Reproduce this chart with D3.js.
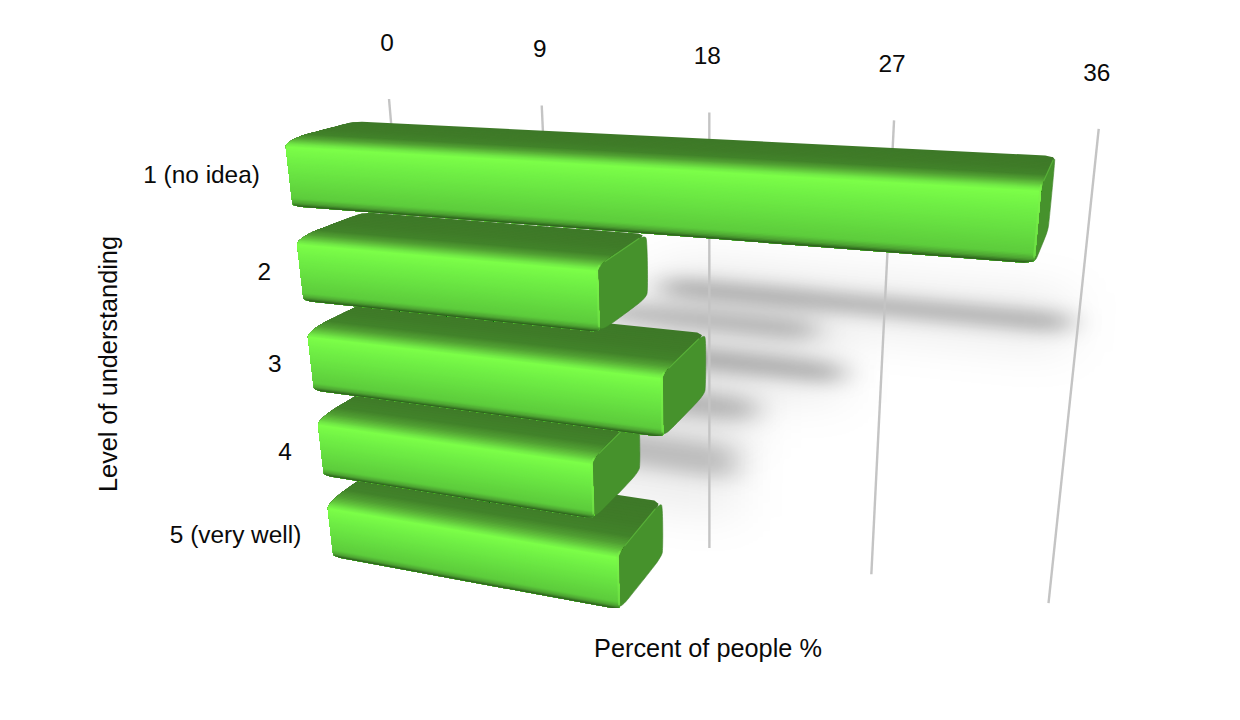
<!DOCTYPE html>
<html><head><meta charset="utf-8">
<style>html,body{margin:0;background:#fff}svg{display:block}text{font-family:"Liberation Sans",Arial,sans-serif;font-size:24.4px;fill:#0a0a0a}.t{font-size:25.3px}</style>
<script src="https://cdnjs.cloudflare.com/ajax/libs/d3/7.8.5/d3.min.js"></script>
</head><body><svg id="c" width="1240" height="720"></svg>
<script>
const categories = ["1 (no idea)","2","3","4","5 (very well)"];
const percent = [34.5,15.9,18.9,15.3,16.5];
const valueTicks = [0,9,18,27,36];
const shadowReach = [35.6,23.5,25,20.5,19.5];
const shadowStart = [15.5,12,12,9,9];
const shadowRow = [1.75,2.09,2.54,3.08,3.75];
const shadowHalf = [.09,.09,.1,.12,.2];
const shadowStrength = [.3,.25,.3,.24,.2];
const axisTitleX = "Percent of people %";
const axisTitleY = "Level of understanding";

// three-point perspective
const origin=[285,140], vpValue=[-2900,-40], vpRow=[710,3800], vpDepth=[1182,-98];
const rowUnit=.0275;
const valueParam=d3.scaleLinear().domain([0,36]).range([0,36*-.005565]);
const rowParam=d3.scaleLinear().domain([0,5]).range([0,5*rowUnit]);
const band=d3.scaleBand().domain(categories).range([0,rowParam(4.67)]).paddingInner(.33).paddingOuter(0);
const barDepth=.085, gridDepth=.1328, gridTop=rowParam(-.146), gridBottom=rowParam(4.862);
function project(v,b,t){
  const a=valueParam(v), w=1+a+b+t;
  return [(origin[0]+a*vpValue[0]+b*vpRow[0]+t*vpDepth[0])/w,
          (origin[1]+a*vpValue[1]+b*vpRow[1]+t*vpDepth[1])/w];
}
const svg=d3.select("#c");
const defs=svg.append("defs");
[["b1","15 8.5"],["b2","26 22"]].forEach(([id,s])=>defs.append("filter").attr("id",id)
  .attr("filterUnits","userSpaceOnUse").attr("x",0).attr("y",0).attr("width",1240).attr("height",720)
  .append("feGaussianBlur").attr("stdDeviation",s));

// shadows on the back plane
const line=d3.line();
function shadowPath(i,half){
  const b=rowParam(shadowRow[i]), db=rowParam(half), s=shadowStart[i], e=shadowReach[i];
  return line([project(s,b-db,gridDepth),project(e,b-db,gridDepth),project(e,b+db,gridDepth),project(s,b+db,gridDepth)])+"Z";
}
const gShadow=svg.append("g");
gShadow.append("g").attr("filter","url(#b2)").selectAll("path").data(categories).join("path")
  .attr("d",(d,i)=>shadowPath(i,shadowHalf[i]*3.4)).attr("fill","#000").attr("fill-opacity",.07);
gShadow.append("g").attr("filter","url(#b1)").selectAll("path").data(categories).join("path")
  .attr("d",(d,i)=>shadowPath(i,shadowHalf[i])).attr("fill","#000").attr("fill-opacity",(d,i)=>shadowStrength[i]);

// grid
svg.append("g").selectAll("line").data(valueTicks).join("line")
  .attr("x1",d=>project(d,gridTop,gridDepth)[0]).attr("y1",d=>project(d,gridTop,gridDepth)[1])
  .attr("x2",d=>project(d,gridBottom,gridDepth)[0]).attr("y2",d=>project(d,gridBottom,gridDepth)[1])
  .attr("stroke","#c4c4c4").attr("stroke-width",2.4);
svg.append("g").selectAll("text").data(valueTicks).join("text")
  .attr("text-anchor","middle").attr("dy",".35em")
  .attr("x",d=>project(d,gridTop,gridDepth)[0]-2)
  .attr("y",d=>project(d,gridTop,gridDepth)[1]-57).text(d=>d);

// bar shading along the cross-section: 0-1 top face, 1-2 rounded edge, 2-3 front face
const shade=d3.scaleLinear()
  .domain([0,.6,1,1.3,1.75,2,2.25,2.55,2.85,2.93,3])
  .range(["#3e7928","#3f7b28","#42832a","#519f33","#72ea46","#7cfe48","#70ef45","#66de41","#5dcc3c","#4da332","#234f15"]);
const h=band.bandwidth(), rc=h*.1, rd=barDepth*.3;
function profile(b0){
  const pts=[];
  d3.range(0,1,1/14).forEach(u=>pts.push({u,b:b0,t:barDepth-(barDepth-rd)*u}));
  d3.range(0,1,1/18).forEach(u=>{const th=u*Math.PI/2;pts.push({u:1+u,b:b0+rc*(1-Math.cos(th)),t:rd*(1-Math.sin(th))});});
  d3.range(0,1.0001,1/50).forEach(u=>pts.push({u:2+u,b:b0+rc+(h-rc)*u,t:0}));
  return pts;
}
function sideOutline(b0){
  const r=[], rbk=barDepth*.2, rh=h*.07;
  d3.range(0,1.001,.2).forEach(u=>{const th=u*Math.PI/2;r.push([b0+rc*(1-Math.cos(th)),rd*(1-Math.sin(th))]);});
  d3.range(0,1.001,.25).forEach(u=>{const th=u*Math.PI/2;r.push([b0+h-rh*(1-Math.sin(th)),rbk*(1-Math.cos(th))]);});
  d3.range(0,1.001,.25).forEach(u=>{const th=u*Math.PI/2;r.push([b0+h-rh*(1-Math.cos(th)),barDepth-rbk*(1-Math.sin(th))]);});
  d3.range(0,1.001,.25).forEach(u=>{const th=u*Math.PI/2;r.push([b0+rh*(1-Math.sin(th)),barDepth-rbk*(1-Math.cos(th))]);});
  return r;
}
const round=.4;
function inset(p){
  let k=0;
  if(p.u<.16){const q=1-p.u/.16;k=1-Math.sqrt(1-q*q);}
  if(p.u>2.95){const q=(p.u-2.95)/.05;k=Math.max(k,1-Math.sqrt(Math.max(0,1-q*q)));}
  return k*round;
}
const bars=svg.append("g");
d3.range(categories.length-1,-1,-1).forEach(i=>{
  const b0=band(categories[i]), val=percent[i], g=bars.append("g");
  g.append("path").attr("d",d3.line().curve(d3.curveCatmullRomClosed)(sideOutline(b0).map(([b,t])=>project(val,b,t))))
    .attr("fill","#46922c").attr("stroke","#3d8026").attr("stroke-width",.6);
  const P=profile(b0);
  // each layer paints from its own line to the bar's lower edge, so later layers cover it without seams
  g.selectAll("path.s").data(P.slice(0,-1)).join("path").attr("class","s")
    .attr("d",(p,j)=>{
      const rest=P.slice(j);
      const left=rest.map(q=>project(inset(q),q.b,q.t));
      const right=rest.map(q=>project(val-inset(q),q.b,q.t)).reverse();
      return line(left.concat(right))+"Z";
    })
    .attr("fill",p=>shade(p.u));
  // bright rim where the front wraps to the end, crease to the top
  const rim=P.filter(p=>p.u>=1.6&&p.u<=2.93).map(p=>project(val-.03,p.b,p.t));
  g.append("path").attr("d",line(rim)).attr("fill","none").attr("stroke","#7df04c").attr("stroke-opacity",.5).attr("stroke-width",2.2);
  g.append("path").attr("d",line([project(val,b0+rc*.3,rd*.45),project(val,b0,barDepth*.85)])).attr("fill","none").attr("stroke","#58b038").attr("stroke-width",1.2);
});

// labels
svg.append("g").selectAll("text").data(categories).join("text")
  .attr("text-anchor","end").attr("dy",".35em")
  .attr("x",d=>project(0,band(d)+h/2,0)[0]-29)
  .attr("y",(d,i)=>project(0,band(d)+h/2,0)[1]+1+i).text(d=>d);
svg.append("text").attr("class","t").attr("x",708).attr("y",648).attr("dy",".35em").attr("text-anchor","middle").text(axisTitleX);
svg.append("text").attr("class","t").attr("transform","translate(108,364) rotate(-90)").attr("dy",".35em").attr("text-anchor","middle").text(axisTitleY);
</script></body></html>
